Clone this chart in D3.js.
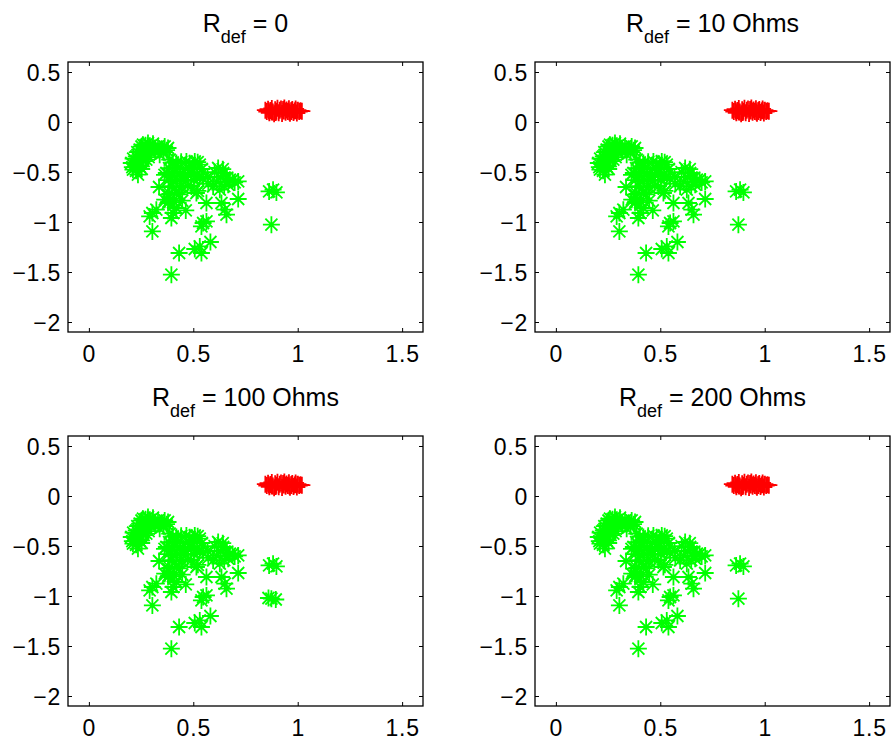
<!DOCTYPE html>
<html><head><meta charset="utf-8">
<script src="https://cdn.jsdelivr.net/npm/d3@7"></script>
<style>
body{margin:0;background:#fff}
svg{display:block}
text{font-family:"Liberation Sans",Arial,Helvetica,sans-serif;fill:#000}
</style>
</head><body>
<svg id="chart" width="891" height="744"></svg>
<script>
// ---- data ----
const xTicks = [0, 0.5, 1, 1.5];
const yTicks = [0.5, 0, -0.5, -1, -1.5, -2];
const xDomain = [-0.1, 1.6];
const yDomain = [-2.1, 0.6];
const panelLabels = ["= 0", "= 10 Ohms", "= 100 Ohms", "= 200 Ohms"];

// fault points (green asterisks), shared clusters
const greenIsolated = [[0.395,-1.527],[0.432,-1.31],[0.507,-1.27],[0.539,-1.31],[0.531,-1.244],[0.582,-1.2],
  [0.304,-1.094],[0.547,-1.01],[0.563,-0.994],[0.539,-1.044],[0.874,-1.027],[0.863,-0.694],[0.898,-0.704],
  [0.882,-0.677],[0.304,-0.91],[0.291,-0.944],[0.323,-0.877],[0.403,-0.91],[0.419,-0.86],[0.395,-0.96],
  [0.464,-0.884],[0.563,-0.81],[0.651,-0.877],[0.635,-0.81],[0.659,-0.927],[0.715,-0.77],[0.336,-0.65],
  [0.363,-0.777],[0.379,-0.727]];
const greenHook = [[0.211,-0.477],[0.203,-0.41],[0.227,-0.344],[0.243,-0.277],[0.259,-0.227],[0.283,-0.21],
  [0.307,-0.217],[0.331,-0.244],[0.363,-0.244],[0.379,-0.26],[0.243,-0.444],[0.275,-0.377],[0.299,-0.31],
  [0.259,-0.327],[0.235,-0.527],[0.339,-0.327],
  [0.252,-0.245],[0.271,-0.232],[0.292,-0.238],[0.315,-0.262],[0.348,-0.268],[0.372,-0.282],
  [0.232,-0.302],[0.251,-0.296],[0.274,-0.288],[0.291,-0.272],[0.318,-0.296],[0.358,-0.302],
  [0.212,-0.366],[0.236,-0.372],[0.254,-0.358],[0.286,-0.351],[0.221,-0.418],[0.246,-0.405],
  [0.262,-0.392],[0.208,-0.452],[0.226,-0.488],[0.253,-0.47]];
const greenMiddle = [[0.387,-0.377],[0.419,-0.41],[0.467,-0.394],[0.507,-0.394],[0.531,-0.427],[0.371,-0.51],
  [0.411,-0.494],[0.451,-0.544],[0.491,-0.51],[0.531,-0.544],[0.403,-0.594],[0.443,-0.644],[0.491,-0.644],
  [0.515,-0.71],[0.419,-0.71],[0.379,-0.81],
  [0.402,-0.405],[0.442,-0.398],[0.483,-0.412],[0.521,-0.402],[0.384,-0.462],[0.425,-0.458],
  [0.463,-0.468],[0.502,-0.455],[0.541,-0.47],[0.362,-0.528],[0.398,-0.531],[0.437,-0.518],
  [0.476,-0.533],[0.518,-0.521],[0.381,-0.582],[0.423,-0.576],[0.462,-0.588],[0.503,-0.58],
  [0.547,-0.565],[0.398,-0.642],[0.436,-0.651],[0.472,-0.637],[0.388,-0.718],[0.432,-0.724],
  [0.522,-0.688],[0.382,-0.795],[0.409,-0.802],[0.447,-0.786],[0.568,-0.55],[0.572,-0.618]];
const greenRight = [[0.619,-0.46],[0.643,-0.51],[0.675,-0.577],[0.715,-0.594],[0.595,-0.644],[0.627,-0.677],
  [0.667,-0.627],[0.602,-0.502],[0.632,-0.548],[0.661,-0.562],[0.698,-0.604],[0.612,-0.598],
  [0.648,-0.642],[0.641,-0.472],[0.688,-0.58]];
const greenExtra = [[], [], [[0.86,-1.02],[0.895,-1.035]], []];

// normal points (red plus signs)
const redPoints = [[0.845,0.118],[0.852,0.105],[0.858,0.128],[0.864,0.092],[0.87,0.115],[0.876,0.135],
  [0.881,0.1],[0.887,0.082],[0.892,0.122],[0.898,0.108],[0.903,0.138],[0.909,0.093],[0.914,0.117],
  [0.92,0.129],[0.925,0.086],[0.931,0.11],[0.936,0.14],[0.942,0.097],[0.947,0.121],[0.953,0.105],
  [0.958,0.133],[0.963,0.088],[0.969,0.115],[0.974,0.126],[0.98,0.096],[0.985,0.11],[0.99,0.131],
  [0.996,0.09],[1.001,0.118],[1.007,0.104],[1.013,0.112],[1.02,0.108],[0.862,0.11],[0.895,0.095],
  [0.93,0.125],[0.96,0.1],[0.99,0.115],[0.875,0.1],[0.94,0.11],[0.97,0.105]];

// ---- layout ----
const W = 355, H = 270;
const panelPos = [[68,62],[535,62],[68,436],[535,436]];
const fontSize = 23;
const markR = 8.5;

const svg = d3.select("#chart");

function starPath(r){
  const a = r*Math.SQRT1_2;
  return `M${-r},0L${r},0M0,${-r}L0,${r}M${-a},${-a}L${a},${a}M${-a},${a}L${a},${-a}`;
}
function plusPath(r){
  return `M${-r},0L${r},0M0,${-r}L0,${r}`;
}

panelPos.forEach((pos, i) => {
  const g = svg.append("g").attr("transform", `translate(${pos[0]},${pos[1]})`);
  const x = d3.scaleLinear().domain(xDomain).range([0, W]);
  const y = d3.scaleLinear().domain(yDomain).range([H, 0]);

  const green = greenIsolated.concat(greenHook, greenMiddle, greenRight, greenExtra[i]);

  g.append("g").selectAll("path").data(green).join("path")
    .attr("transform", d => `translate(${x(d[0])},${y(d[1])})`)
    .attr("d", starPath(markR))
    .attr("stroke", "#00ff00").attr("stroke-width", 1.8).attr("fill", "none");

  g.append("g").selectAll("path").data(redPoints).join("path")
    .attr("transform", d => `translate(${x(d[0])},${y(d[1])})`)
    .attr("d", plusPath(markR))
    .attr("stroke", "#ff0000").attr("stroke-width", 1.8).attr("fill", "none");

  // axes with inward ticks on all sides
  const tl = 4;
  const axB = g.append("g").attr("transform", `translate(0,${H})`)
    .call(d3.axisBottom(x).tickValues(xTicks).tickSizeInner(-tl).tickSizeOuter(0).tickFormat(d3.format("")));
  const axT = g.append("g")
    .call(d3.axisTop(x).tickValues(xTicks).tickSizeInner(-tl).tickSizeOuter(0).tickFormat(""));
  const axL = g.append("g")
    .call(d3.axisLeft(y).tickValues(yTicks).tickSizeInner(-tl).tickSizeOuter(0).tickFormat(d => d3.format("")(d).replace("-", "\u2212")));
  const axR = g.append("g").attr("transform", `translate(${W},0)`)
    .call(d3.axisRight(y).tickValues(yTicks).tickSizeInner(-tl).tickSizeOuter(0).tickFormat(""));
  [axB, axT, axL, axR].forEach(a => {
    a.select(".domain").remove();
    a.selectAll("line").attr("stroke", "#000").attr("stroke-width", 1);
    a.selectAll("text").attr("font-size", fontSize).attr("letter-spacing", "0.8px")
      .attr("font-family", '"Liberation Sans",Arial,sans-serif').attr("fill", "#000");
  });
  axB.selectAll("text").attr("dy", "0.71em").attr("y", 14);
  axL.selectAll("text").attr("dy", "0.36em").attr("x", -7);

  g.append("rect").attr("x", 0).attr("y", 0).attr("width", W).attr("height", H)
    .attr("fill", "none").attr("stroke", "#000").attr("stroke-width", 1.3);

  // title
  const t = g.append("text").attr("x", W/2).attr("y", -30)
    .attr("text-anchor", "middle").attr("font-size", 25);
  t.append("tspan").text("R");
  t.append("tspan").attr("font-size", 18).attr("dy", 11).text("def");
  t.append("tspan").attr("dy", -11).text(" " + panelLabels[i]);
});
</script>
</body></html>
